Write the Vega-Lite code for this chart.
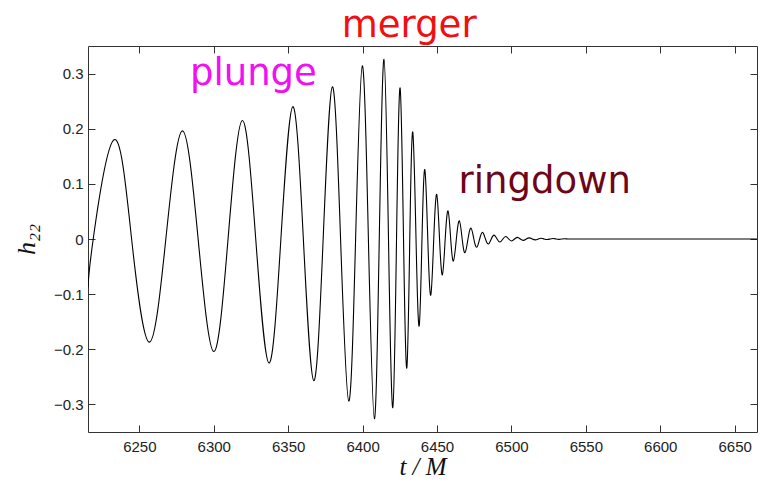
{
  "$schema": "https://vega.github.io/schema/vega-lite/v6.json",
  "width": 669,
  "height": 386,
  "autosize": {"type": "none"},
  "padding": {"left": 88, "top": 46, "right": 3, "bottom": 53},
  "background": "white",
  "config": {
    "view": {"stroke": "#333", "strokeWidth": 1},
    "axis": {
      "grid": false,
      "domain": false,
      "tickColor": "#333",
      "tickSize": -7,
      "labelFont": "Liberation Sans",
      "labelFontSize": 15,
      "labelColor": "#222",
      "titleFont": "Liberation Serif, DejaVu Serif",
      "titleFontStyle": "italic",
      "titleFontWeight": "normal",
      "titleFontSize": 26,
      "titleColor": "#111"
    }
  },
  "datasets": {
    "wave": [
      {"t": 6215.5, "h": -0.088},
      {"t": 6219.0, "h": 0},
      {"t": 6233.0, "h": 0.180},
      {"t": 6244.8, "h": 0},
      {"t": 6256.7, "h": -0.187},
      {"t": 6267.8, "h": 0},
      {"t": 6278.9, "h": 0.196},
      {"t": 6289.5, "h": 0},
      {"t": 6300.0, "h": -0.204},
      {"t": 6309.6, "h": 0},
      {"t": 6319.2, "h": 0.215},
      {"t": 6328.2, "h": 0},
      {"t": 6337.1, "h": -0.225},
      {"t": 6345.1, "h": 0},
      {"t": 6353.1, "h": 0.240},
      {"t": 6360.2, "h": 0},
      {"t": 6367.2, "h": -0.257},
      {"t": 6373.5, "h": 0},
      {"t": 6379.7, "h": 0.276},
      {"t": 6385.2, "h": 0},
      {"t": 6390.7, "h": -0.294},
      {"t": 6395.3, "h": 0},
      {"t": 6399.8, "h": 0.314},
      {"t": 6403.9, "h": 0},
      {"t": 6407.9, "h": -0.326},
      {"t": 6411.2, "h": 0},
      {"t": 6414.4, "h": 0.326},
      {"t": 6417.4, "h": 0},
      {"t": 6420.3, "h": -0.306},
      {"t": 6422.8, "h": 0},
      {"t": 6425.2, "h": 0.274},
      {"t": 6427.5, "h": 0},
      {"t": 6429.7, "h": -0.234},
      {"t": 6431.7, "h": 0},
      {"t": 6433.7, "h": 0.194},
      {"t": 6435.9, "h": 0},
      {"t": 6438.0, "h": -0.158},
      {"t": 6439.9, "h": 0},
      {"t": 6441.8, "h": 0.126},
      {"t": 6443.8, "h": 0},
      {"t": 6445.8, "h": -0.102},
      {"t": 6447.8, "h": 0},
      {"t": 6449.8, "h": 0.081},
      {"t": 6451.7, "h": 0},
      {"t": 6453.6, "h": -0.065},
      {"t": 6455.5, "h": 0},
      {"t": 6457.4, "h": 0.051},
      {"t": 6459.2, "h": 0},
      {"t": 6461.0, "h": -0.040},
      {"t": 6463.0, "h": 0},
      {"t": 6465.0, "h": 0.033},
      {"t": 6466.9, "h": 0},
      {"t": 6468.8, "h": -0.025},
      {"t": 6470.8, "h": 0},
      {"t": 6472.8, "h": 0.020},
      {"t": 6474.75, "h": 0},
      {"t": 6476.7, "h": -0.015},
      {"t": 6478.65, "h": 0},
      {"t": 6480.6, "h": 0.012},
      {"t": 6482.55, "h": 0},
      {"t": 6484.5, "h": -0.009},
      {"t": 6486.45, "h": 0},
      {"t": 6488.4, "h": 0.007},
      {"t": 6490.35, "h": 0},
      {"t": 6492.3, "h": -0.0055},
      {"t": 6494.25, "h": 0},
      {"t": 6496.2, "h": 0.0045},
      {"t": 6498.15, "h": 0},
      {"t": 6500.1, "h": -0.0035},
      {"t": 6502.05, "h": 0},
      {"t": 6504.0, "h": 0.003},
      {"t": 6506.0, "h": 0},
      {"t": 6508.0, "h": -0.0025},
      {"t": 6510.0, "h": 0},
      {"t": 6512.0, "h": 0.002},
      {"t": 6514.0, "h": 0},
      {"t": 6516.0, "h": -0.0016},
      {"t": 6518.0, "h": 0},
      {"t": 6520.0, "h": 0.0013},
      {"t": 6522.0, "h": 0},
      {"t": 6524.0, "h": -0.001},
      {"t": 6526.0, "h": 0},
      {"t": 6528.0, "h": 0.0008},
      {"t": 6530.0, "h": 0},
      {"t": 6532.0, "h": -0.0006},
      {"t": 6534.0, "h": 0},
      {"t": 6536.0, "h": 0.0005},
      {"t": 6538.0, "h": 0},
      {"t": 6542, "h": 0},
      {"t": 6548, "h": 0},
      {"t": 6556, "h": 0},
      {"t": 6566, "h": 0},
      {"t": 6580, "h": 0},
      {"t": 6598, "h": 0},
      {"t": 6622, "h": 0},
      {"t": 6665, "h": 0}
    ],
    "labels": [
      {"t": 6284.0, "h": 0.279, "label": "plunge"},
      {"t": 6386.0, "h": 0.366, "label": "merger"},
      {"t": 6464.5, "h": 0.0834, "label": "ringdown"}
    ]
  },
  "layer": [
    {
      "data": {"name": "wave"},
      "mark": {"type": "line", "interpolate": "natural", "color": "#000", "strokeWidth": 1.1, "clip": true},
      "encoding": {
        "x": {
          "field": "t", "type": "quantitative",
          "scale": {"domain": [6215.5, 6665], "nice": false, "zero": false},
          "axis": {
            "orient": "bottom",
            "values": [6250, 6300, 6350, 6400, 6450, 6500, 6550, 6600, 6650],
            "format": "d",
            "labelPadding": 14,
            "title": "t / M",
            "titleFontSize": 25,
            "titlePadding": 0
          }
        },
        "y": {
          "field": "h", "type": "quantitative",
          "scale": {"domain": [-0.35, 0.35], "nice": false, "zero": false},
          "axis": {
            "orient": "left",
            "values": [-0.3, -0.2, -0.1, 0, 0.1, 0.2, 0.3],
            "format": ".1~f",
            "labelPadding": 12,
            "title": "h₂₂",
            "titlePadding": 14
          }
        }
      }
    },
    {
      "data": {"name": "labels"},
      "mark": {"type": "text", "align": "left", "baseline": "alphabetic", "font": "DejaVu Sans", "fontSize": 37},
      "encoding": {
        "x": {
          "field": "t", "type": "quantitative",
          "axis": {
            "orient": "top",
            "values": [6250, 6300, 6350, 6400, 6450, 6500, 6550, 6600, 6650],
            "labels": false,
            "title": null
          }
        },
        "y": {
          "field": "h", "type": "quantitative",
          "axis": {
            "orient": "right",
            "values": [-0.3, -0.2, -0.1, 0, 0.1, 0.2, 0.3],
            "labels": false,
            "title": null
          }
        },
        "text": {"field": "label"},
        "color": {
          "field": "label", "type": "nominal",
          "scale": {"domain": ["plunge", "merger", "ringdown"], "range": ["#f010f0", "#f01010", "#6e0618"]},
          "legend": null
        }
      }
    }
  ],
  "resolve": {"axis": {"x": "independent", "y": "independent"}}
}
